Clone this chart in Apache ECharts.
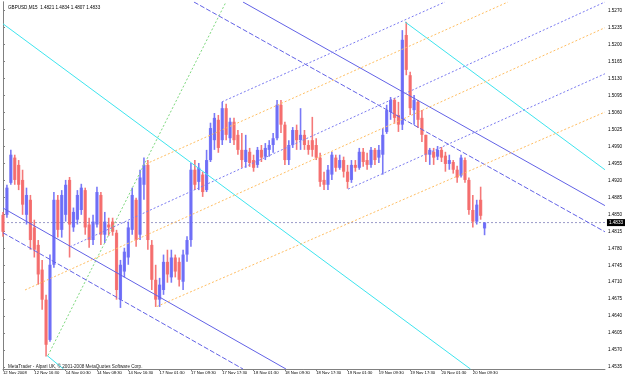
<!DOCTYPE html>
<html>
<head>
<meta charset="utf-8">
<script src="https://cdn.jsdelivr.net/npm/echarts@6/dist/echarts.min.js"></script>
<style>
  html, body { margin: 0; padding: 0; background: #fff; }
  #chart { width: 625px; height: 378px; }
</style>
</head>
<body>
<div id="chart"></div>
<script>
// GBPUSD M15 bars, one entry per 4 bar slots
const opens = [1.4849,1.4849,1.4915,1.4967,1.4952,1.4921,1.4849,1.4880,1.4823,1.4787,
  1.4736,1.4674,1.4591,1.4746,1.4880,1.4818,1.4849,1.4921,1.4823,1.4839,
  1.4859,1.4900,1.4829,1.4797,1.4829,1.4890,1.4808,1.4829,1.4835,1.4812,
  1.4674,1.4732,1.4761,1.4818,1.4880,1.4808,1.4911,1.4952,1.4787,1.4715,
  1.4674,1.4694,1.4752,1.4720,1.4761,1.4752,1.4711,1.4767,1.4797,1.4942,
  1.4917,1.4932,1.4900,1.4962,1.5003,1.5045,1.5003,1.5069,1.5007,1.5041,
  1.5014,1.4983,1.4958,1.4979,1.4962,1.4952,1.4983,1.4969,1.4983,1.4993,
  1.5007,1.5076,1.5035,1.4962,1.4993,1.5024,1.5003,1.5014,1.4993,1.5003,
  1.4993,1.4967,1.4921,1.4911,1.4932,1.4967,1.4946,1.4962,1.4938,1.4921,
  1.4952,1.4946,1.4979,1.4962,1.4952,1.4983,1.4967,1.4973,1.5020,1.5061,
  1.5086,1.5055,1.5035,1.5220,1.5137,1.5065,1.5082,1.5049,1.5014,1.4973,
  1.4979,1.4969,1.4983,1.4971,1.4954,1.4958,1.4942,1.4930,1.4962,1.4921,
  1.4859,1.4835,1.4880,1.4821];
const highs = [1.4855,1.4911,1.4983,1.4973,1.4962,1.4942,1.4905,1.4890,1.4839,1.4797,
  1.4756,1.4684,1.4767,1.4896,1.4890,1.4900,1.4921,1.4927,1.4864,1.4900,
  1.4913,1.4905,1.4843,1.4849,1.4907,1.4896,1.4855,1.4843,1.4843,1.4818,
  1.4756,1.4781,1.4835,1.4905,1.4884,1.4942,1.4967,1.4962,1.4797,1.4746,
  1.4719,1.4767,1.4777,1.4777,1.4767,1.4761,1.4777,1.4805,1.4956,1.4962,
  1.4956,1.4938,1.4983,1.5039,1.5059,1.5055,1.5082,1.5078,1.5049,1.5049,
  1.5024,1.5018,1.5014,1.4987,1.4973,1.4989,1.4993,1.4997,1.5003,1.5018,
  1.5086,1.5086,1.5041,1.5003,1.5030,1.5035,1.5069,1.5024,1.5003,1.5051,
  1.5007,1.4977,1.4938,1.4952,1.4979,1.4973,1.4973,1.4969,1.4952,1.4962,
  1.4962,1.4987,1.4987,1.4977,1.4989,1.4987,1.4993,1.5028,1.5076,1.5092,
  1.5090,1.5082,1.5230,1.5247,1.5144,1.5096,1.5086,1.5065,1.5014,1.4987,
  1.4987,1.4991,1.4989,1.4979,1.4973,1.4962,1.4950,1.4973,1.4967,1.4926,
  1.4890,1.4880,1.4907,1.4834];
const lows = [1.4804,1.4843,1.4911,1.4911,1.4900,1.4849,1.4829,1.4777,1.4761,1.4705,
  1.4653,1.4557,1.4587,1.4740,1.4802,1.4802,1.4835,1.4761,1.4814,1.4829,
  1.4849,1.4808,1.4781,1.4787,1.4823,1.4787,1.4791,1.4806,1.4806,1.4674,
  1.4657,1.4720,1.4746,1.4808,1.4783,1.4797,1.4880,1.4777,1.4694,1.4659,
  1.4659,1.4684,1.4709,1.4709,1.4720,1.4701,1.4694,1.4752,1.4783,1.4900,
  1.4900,1.4886,1.4896,1.4958,1.4983,1.4977,1.4993,1.5003,1.4997,1.4993,
  1.4973,1.4946,1.4946,1.4948,1.4938,1.4946,1.4958,1.4962,1.4969,1.4977,
  1.5003,1.5018,1.4952,1.4952,1.4987,1.4983,1.4983,1.4983,1.4973,1.4969,
  1.4962,1.4907,1.4900,1.4900,1.4921,1.4938,1.4942,1.4926,1.4903,1.4915,
  1.4938,1.4942,1.4948,1.4942,1.4946,1.4952,1.4956,1.4932,1.5016,1.5045,
  1.5037,1.5020,1.5024,1.5137,1.5055,1.5035,1.5028,1.4999,1.4958,1.4952,
  1.4952,1.4962,1.4958,1.4938,1.4942,1.4934,1.4915,1.4926,1.4915,1.4849,
  1.4823,1.4829,1.4839,1.4807];
const closes = [1.4814,1.4905,1.4973,1.4921,1.4911,1.4870,1.4890,1.4797,1.4777,1.4726,
  1.4674,1.4581,1.4746,1.4880,1.4818,1.4890,1.4911,1.4829,1.4855,1.4890,
  1.4905,1.4823,1.4797,1.4835,1.4896,1.4808,1.4835,1.4823,1.4814,1.4694,
  1.4746,1.4773,1.4823,1.4890,1.4797,1.4926,1.4952,1.4797,1.4715,1.4674,
  1.4705,1.4752,1.4726,1.4761,1.4732,1.4715,1.4767,1.4797,1.4942,1.4911,
  1.4946,1.4896,1.4962,1.5028,1.5049,1.4987,1.5069,1.5014,1.5041,1.5003,
  1.4983,1.4962,1.4983,1.4956,1.4946,1.4983,1.4967,1.4987,1.4993,1.5007,
  1.5076,1.5035,1.4962,1.4993,1.5024,1.5003,1.5014,1.4993,1.4983,1.4983,
  1.4967,1.4917,1.4911,1.4942,1.4973,1.4946,1.4962,1.4938,1.4917,1.4952,
  1.4946,1.4979,1.4958,1.4952,1.4983,1.4962,1.4983,1.5014,1.5065,1.5086,
  1.5049,1.5035,1.5210,1.5148,1.5069,1.5086,1.5045,1.5014,1.4973,1.4983,
  1.4967,1.4983,1.4967,1.4954,1.4962,1.4942,1.4926,1.4967,1.4921,1.4859,
  1.4835,1.4870,1.4847,1.4833];
const lastPrice = 1.4833;

// axis ticks
const xLabels = ['12 Nov 2008', '12 Nov 16:30', '14 Nov 00:30', '14 Nov 08:30', '14 Nov 16:30',
  '17 Nov 01:30', '17 Nov 09:30', '17 Nov 17:30', '18 Nov 01:30', '18 Nov 09:30',
  '18 Nov 17:30', '19 Nov 01:30', '19 Nov 09:30', '19 Nov 17:30', '20 Nov 01:30', '20 Nov 09:30'];
const xLabelPos = [0, 32, 64, 96, 128, 160, 192, 224, 256, 288, 320, 352, 384, 416, 448, 480];
const yTicks = [1.4535, 1.4570, 1.4605, 1.4640, 1.4675, 1.4710, 1.4745, 1.4780, 1.4815, 1.4850,
  1.4885, 1.4920, 1.4955, 1.4990, 1.5025, 1.5060, 1.5095, 1.5130, 1.5165, 1.5200, 1.5235, 1.5270];

// drawn objects: [bar slot, price] end points
const cyanUpper = [[0, 1.5243], [477.6, 1.4531]];
const cyanRight = [[410.7, 1.5247], [615, 1.4942]];
const cyanLow = [[44.9, 1.4559], [61.8, 1.4531]];
const greenFan = [[46, 1.4559], [227.8, 1.5288]];
const chanSolidLow = [[0, 1.4863], [289.1, 1.4531]];
const chanDashLow = [[0, 1.4812], [245.2, 1.4531]];
const chanSolidHigh = [[245.2, 1.5288], [615, 1.4868]];
const chanDashHigh = [[195.1, 1.5288], [615, 1.4814]];
const blueDot0 = [[223.7, 1.5082], [451.5, 1.5288]];
const blueDot1 = [[68.4, 1.4783], [615, 1.5288]];
const blueDot2 = [[352.5, 1.4902], [615, 1.5140]];
const orangeDot0 = [[146.1, 1.4954], [515.9, 1.5288]];
const orangeDot1 = [[22.5, 1.4694], [615, 1.5235]];
const orangeDot2 = [[157.3, 1.4660], [615, 1.5061]];
const priceLine = [[0, lastPrice], [615, lastPrice]];

const FONT = 'Liberation Sans';
const barData = opens.map((o, i) => [i * 4, o, closes[i], lows[i], highs[i]]);

function trend(data, color, type) {
  return {
    type: 'line', data: data, showSymbol: false, silent: true, z: 5,
    lineStyle: { color: color, width: 1, type: type },
  };
}

const chart = echarts.init(document.getElementById('chart'));
chart.setOption({
  animation: false,
  backgroundColor: '#fff',
  title: [
    { text: 'GBPUSD,M15  1.4821 1.4834 1.4807 1.4833', left: 3, top: 0,
      textStyle: { fontSize: 4.6, fontWeight: 'normal', color: '#000', fontFamily: FONT } },
    { text: 'MetaTrader - Alpari UK, © 2001-2008 MetaQuotes Software Corp.', left: 3, top: 359,
      textStyle: { fontSize: 4.6, fontWeight: 'normal', color: '#222', fontFamily: FONT } },
  ],
  grid: { left: 3, right: 20, top: 2, bottom: 9 },
  xAxis: {
    type: 'value', min: 0, max: 615,
    splitLine: { show: false },
    axisLine: { lineStyle: { color: '#808080', width: 1 } },
    axisTick: { customValues: xLabelPos, length: 2, lineStyle: { color: '#808080' } },
    axisLabel: {
      customValues: xLabelPos, align: 'left', margin: 2,
      fontSize: 4.2, color: '#000', fontFamily: FONT,
      formatter: (v) => xLabels[xLabelPos.indexOf(v)] || '',
    },
  },
  yAxis: [
    {
      type: 'value', position: 'right', min: 1.4531, max: 1.5288,
      splitLine: { show: false },
      axisLine: { show: true, lineStyle: { color: '#808080', width: 1 } },
      axisTick: { customValues: yTicks, length: 2, lineStyle: { color: '#808080' } },
      axisLabel: {
        customValues: yTicks, margin: 3, fontSize: 4.6, color: '#000', fontFamily: FONT,
        formatter: (v) => v.toFixed(4),
      },
    },
    {
      type: 'value', position: 'left', min: 1.4531, max: 1.5288,
      splitLine: { show: false }, axisTick: { show: false }, axisLabel: { show: false },
      axisLine: { show: true, lineStyle: { color: '#808080', width: 1 } },
    },
  ],
  series: [
    {
      type: 'line', data: priceLine, showSymbol: false, silent: true, z: 2,
      lineStyle: { color: '#9a9ac8', width: 1, type: [2, 2] },
      endLabel: {
        show: true, distance: 2, formatter: lastPrice.toFixed(4),
        backgroundColor: '#000', color: '#fff', fontSize: 4.6, fontFamily: FONT, padding: [1, 2, 1, 2],
      },
    },
    {
      type: 'custom', data: barData, z: 3, silent: true,
      renderItem: (params, api) => {
        const x = api.value(0);
        const o = api.coord([x, api.value(1)]);
        const c = api.coord([x, api.value(2)]);
        const lo = api.coord([x, api.value(3)]);
        const hi = api.coord([x, api.value(4)]);
        const up = api.value(2) >= api.value(1);
        const color = up ? '#6a6af6' : '#f46a6a';
        const top = Math.min(o[1], c[1]);
        return {
          type: 'group',
          children: [
            { type: 'line', shape: { x1: lo[0], y1: lo[1], x2: hi[0], y2: hi[1] },
              style: { stroke: color, lineWidth: 1.6, opacity: 0.9 } },
            { type: 'rect', shape: { x: o[0] - 1.6, y: top, width: 3.2, height: Math.max(1, Math.abs(o[1] - c[1])) },
              style: { fill: color, opacity: 0.9 } },
          ],
        };
      },
    },
    trend(cyanUpper, '#3ee4ee', 'solid'),
    trend(cyanRight, '#3ee4ee', 'solid'),
    trend(cyanLow, '#3ee4ee', 'solid'),
    trend(greenFan, '#7ed87e', [2, 2]),
    trend(chanSolidLow, '#6262e6', 'solid'),
    trend(chanDashLow, '#6262e6', [5, 2]),
    trend(chanSolidHigh, '#6262e6', 'solid'),
    trend(chanDashHigh, '#6262e6', [5, 2]),
    trend(blueDot0, '#7a7af0', [2, 2]),
    trend(blueDot1, '#7a7af0', [2, 2]),
    trend(blueDot2, '#7a7af0', [2, 2]),
    trend(orangeDot0, '#ffbe62', [2, 2]),
    trend(orangeDot1, '#ffbe62', [2, 2]),
    trend(orangeDot2, '#ffbe62', [2, 2]),
  ],
});
</script>
</body>
</html>
